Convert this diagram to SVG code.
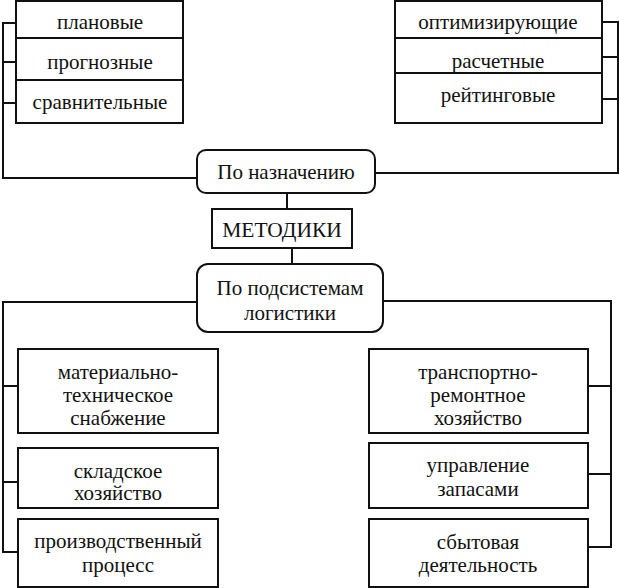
<svg xmlns="http://www.w3.org/2000/svg" width="619" height="588" viewBox="0 0 619 588">
<style>
.b{fill:#fff;stroke:#111;stroke-width:2}
.c{fill:none;stroke:#111;stroke-width:2}
text{font-family:'Liberation Serif','DejaVu Serif',serif;font-size:21px;fill:#111;text-anchor:middle;dominant-baseline:central}
.big{font-size:21.5px}
</style>
<rect width="619" height="588" fill="#fff"/>
<g id="connectors">
<polyline class="c" points="16,23 3,23 3,178 198,178"/>
<line class="c" x1="3" y1="62" x2="16" y2="62"/>
<line class="c" x1="3" y1="103" x2="16" y2="103"/>
<polyline class="c" points="602,22 618,22 618,173 375,173"/>
<line class="c" x1="602" y1="57" x2="618" y2="57"/>
<line class="c" x1="602" y1="99" x2="618" y2="99"/>
<line class="c" x1="287" y1="193" x2="287" y2="209"/>
<line class="c" x1="292" y1="248" x2="292" y2="264"/>
<polyline class="c" points="197,302 3,302 3,552 18,552"/>
<line class="c" x1="3" y1="386" x2="18" y2="386"/>
<line class="c" x1="3" y1="482" x2="18" y2="482"/>
<polyline class="c" points="383,301 611,301 611,547 588,547"/>
<line class="c" x1="588" y1="386" x2="611" y2="386"/>
<line class="c" x1="588" y1="474" x2="611" y2="474"/>
</g>
<g id="purpose-left">
<rect class="b" x="16" y="1" width="167" height="122"/>
<line class="c" x1="16" y1="38" x2="183" y2="38"/>
<line class="c" x1="16" y1="80" x2="183" y2="80"/>
<text x="100" y="22">плановые</text>
<text x="100" y="62">прогнозные</text>
<text x="100" y="102">сравнительные</text>
</g>
<g id="purpose-right">
<rect class="b" x="395" y="1" width="207" height="122"/>
<line class="c" x1="395" y1="38" x2="602" y2="38"/>
<line class="c" x1="395" y1="73" x2="602" y2="73"/>
<text x="498" y="22">оптимизирующие</text>
<text x="498" y="61">расчетные</text>
<text x="498" y="95">рейтинговые</text>
</g>
<g id="by-purpose">
<rect class="b" x="197" y="150" width="178" height="43" rx="9"/>
<text x="286" y="172">По назначению</text>
</g>
<g id="methods">
<rect class="b" x="212" y="209" width="140" height="39"/>
<text class="big" x="282" y="230">МЕТОДИКИ</text>
</g>
<g id="by-subsystems">
<rect class="b" x="197" y="264" width="186" height="68" rx="11"/>
<text x="290" y="288">По подсистемам</text>
<text x="290" y="313">логистики</text>
</g>
<g id="mts">
<rect class="b" x="18" y="349" width="200" height="84"/>
<text x="118" y="372">материально-</text>
<text x="118" y="395">техническое</text>
<text x="118" y="418">снабжение</text>
</g>
<g id="warehouse">
<rect class="b" x="18" y="448" width="200" height="60"/>
<text x="118" y="471">складское</text>
<text x="118" y="493">хозяйство</text>
</g>
<g id="production">
<rect class="b" x="18" y="519" width="200" height="68"/>
<text x="118" y="541">производственный</text>
<text x="118" y="565">процесс</text>
</g>
<g id="transport">
<rect class="b" x="369" y="349" width="219" height="84"/>
<text x="478" y="372">транспортно-</text>
<text x="478" y="395">ремонтное</text>
<text x="478" y="418">хозяйство</text>
</g>
<g id="stock">
<rect class="b" x="369" y="443" width="219" height="65"/>
<text x="478" y="465">управление</text>
<text x="478" y="489">запасами</text>
</g>
<g id="sales">
<rect class="b" x="369" y="519" width="219" height="68"/>
<text x="478" y="542">сбытовая</text>
<text x="478" y="565">деятельность</text>
</g>
</svg>
